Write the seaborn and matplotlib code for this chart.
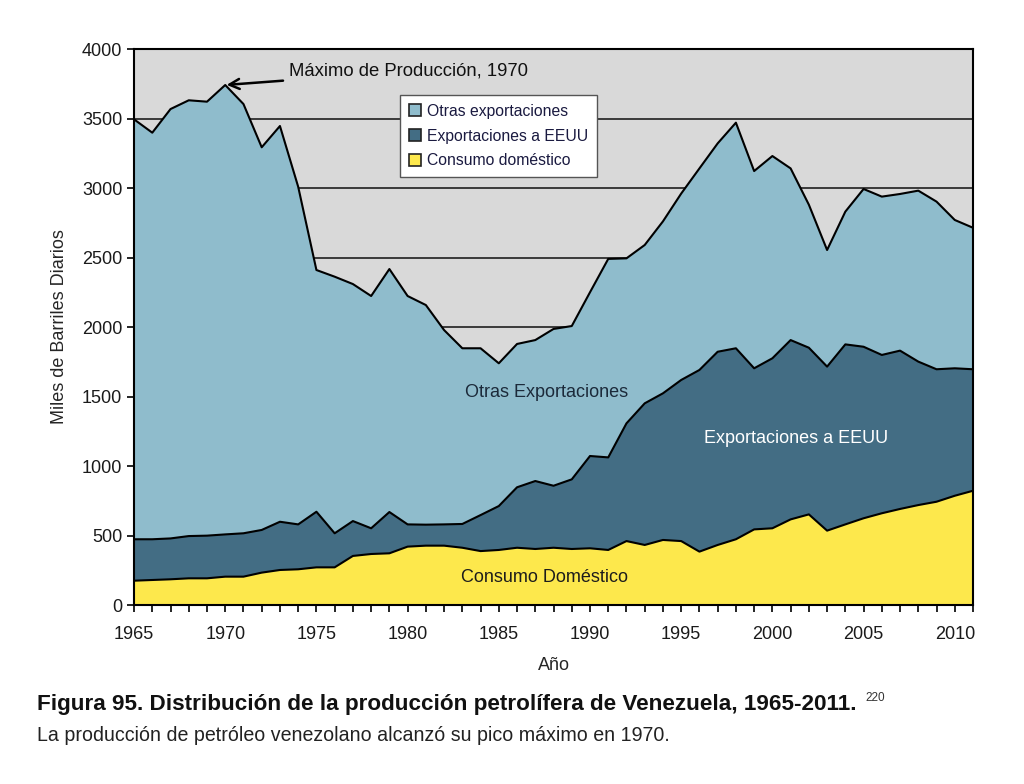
import numpy as np
import pandas as pd
import matplotlib
matplotlib.use("Agg")
import matplotlib.pyplot as plt
import seaborn as sns
from matplotlib.ticker import MultipleLocator, FixedLocator
from matplotlib.patches import Patch

years = list(range(1965, 2012))

# Top of stack: total production (miles de barriles diarios)
total = [3494, 3398, 3568, 3631, 3621, 3741, 3604, 3293, 3446, 3009,
         2410, 2362, 2309, 2223, 2417, 2223, 2158, 1978, 1847, 1847,
         1739, 1878, 1906, 1986, 2007, 2250, 2490, 2494, 2590, 2760,
         2960, 3141, 3321, 3470, 3122, 3230, 3141, 2880, 2554, 2830,
         2993, 2938, 2957, 2981, 2902, 2770, 2714]
# Cumulative: domestic + exports to USA
dom_plus_us = [473, 473, 479, 496, 499, 508, 516, 540, 599, 580,
               671, 516, 604, 552, 669, 580, 578, 580, 583, 647,
               712, 847, 892, 858, 904, 1072, 1062, 1307, 1451, 1523,
               1619, 1691, 1822, 1847, 1703, 1775, 1906, 1851, 1715, 1875,
               1858, 1799, 1830, 1751, 1696, 1703, 1696]
# Consumo doméstico
domestico = [175, 180, 185, 192, 192, 204, 204, 233, 252, 257,
             271, 271, 353, 367, 372, 420, 427, 427, 412, 388,
             396, 412, 403, 412, 403, 408, 396, 460, 432, 468,
             460, 384, 432, 473, 544, 552, 616, 652, 535, 580,
             624, 660, 691, 719, 743, 786, 822]

export_eeuu = [a - b for a, b in zip(dom_plus_us, domestico)]
otras = [a - b for a, b in zip(total, dom_plus_us)]

colors = ["#fde84c", "#436d84", "#8fbccc"]
legend_labels = ["Otras exportaciones", "Exportaciones a EEUU", "Consumo doméstico"]

df = pd.DataFrame({"Año": years, "domestico": domestico,
                   "eeuu": export_eeuu, "otras": otras})

sns.set_style("white")
plt.rcParams["font.family"] = ["Liberation Sans", "DejaVu Sans"]

fig = plt.figure(figsize=(10.24, 7.84), dpi=100)
ax = fig.add_axes([0.1309, 0.2283, 0.8193, 0.7092])
ax.set_facecolor("#d9d9d9")

ax.stackplot(df["Año"], df["domestico"], df["eeuu"], df["otras"],
             colors=colors, edgecolor="none", zorder=2)
cum1 = df["domestico"]
cum2 = cum1 + df["eeuu"]
cum3 = cum2 + df["otras"]
for c in (cum1, cum2, cum3):
    sns.lineplot(x=df["Año"], y=c, ax=ax, color="black", lw=1.5, zorder=3)

ax.set_xlim(1965, 2011)
ax.set_ylim(0, 4000)
ax.yaxis.set_major_locator(MultipleLocator(500))
ax.xaxis.set_major_locator(FixedLocator(list(range(1965, 2012))))
ax.set_xticklabels([str(y) if (y - 1965) % 5 == 0 else "" for y in range(1965, 2012)])
ax.grid(False)
ax.yaxis.grid(True, color="#3a3a3a", lw=1.4, zorder=1)
ax.set_axisbelow(True)
for s in ax.spines.values():
    s.set_color("black")
    s.set_linewidth(1.5)
    s.set_zorder(5)
ax.tick_params(axis="both", direction="out", length=5, width=1.2, color="black",
               labelsize=13, labelcolor="#1a1a1a", bottom=True, left=True)
ax.tick_params(axis="x", pad=10)

ax.set_xlabel("Año", fontsize=13, labelpad=10)
ax.set_ylabel("Miles de Barriles Diarios", fontsize=13, labelpad=10)

ax.text(1987.6, 1530, "Otras Exportaciones", ha="center", va="center",
        fontsize=13, color="#1c2a3a", zorder=4)
ax.text(2001.3, 1200, "Exportaciones a EEUU", ha="center", va="center",
        fontsize=13, color="white", zorder=4)
ax.text(1987.5, 195, "Consumo Doméstico", ha="center", va="center",
        fontsize=13, color="#1c1c1c", zorder=4)

ax.annotate("Máximo de Producción, 1970", xy=(1970, 3741), xytext=(1973.5, 3840),
            fontsize=13.3, va="center", ha="left", color="#111111",
            arrowprops=dict(arrowstyle="->", color="black", lw=1.8,
                            shrinkA=2, shrinkB=1, mutation_scale=18), zorder=6)

handles = [Patch(facecolor=colors[2], edgecolor="#222222", lw=1.2),
           Patch(facecolor=colors[1], edgecolor="#222222", lw=1.2),
           Patch(facecolor=colors[0], edgecolor="#222222", lw=1.2)]
leg = ax.legend(handles, legend_labels, loc="upper left", bbox_to_anchor=(0.317, 0.917),
                borderaxespad=0.0,
                frameon=True, fancybox=False, framealpha=1, edgecolor="#555555",
                handlelength=0.8, handleheight=0.8, handletextpad=0.4,
                borderpad=0.55, labelspacing=0.62,
                prop={"size": 11.3})
leg.get_frame().set_linewidth(1.0)
leg.set_zorder(7)
for t in leg.get_texts():
    t.set_color("#1a1a40")

fig.text(0.036, 0.101, "Figura 95. Distribución de la producción petrolífera de Venezuela, 1965-2011.",
         fontsize=16.2, fontweight="bold", color="#111111", va="center")
fig.text(0.845, 0.110, "220", fontsize=8.5, color="#333333", va="center")
fig.text(0.036, 0.062, "La producción de petróleo venezolano alcanzó su pico máximo en 1970.",
         fontsize=14.1, color="#222222", va="center")

fig.savefig("out.png", dpi=100)
